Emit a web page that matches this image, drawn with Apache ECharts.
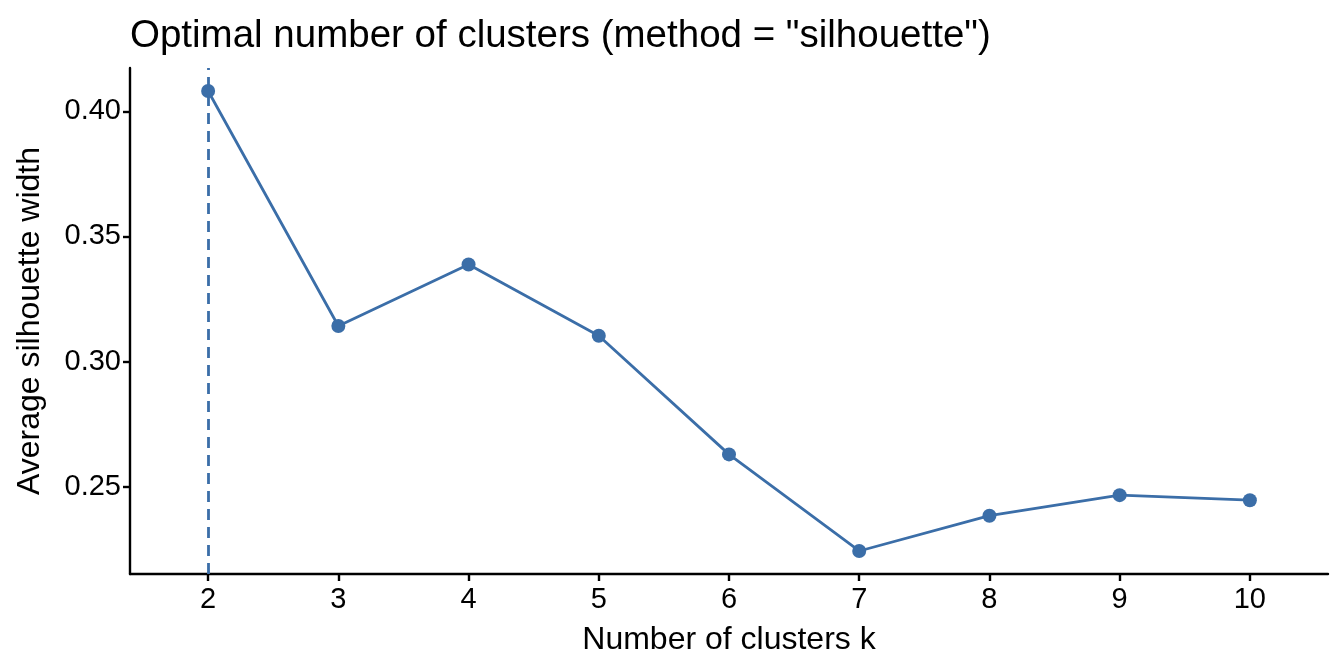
<!DOCTYPE html>
<html>
<head>
<meta charset="utf-8">
<title>Optimal number of clusters</title>
<script src="https://cdn.jsdelivr.net/npm/echarts@6/dist/echarts.min.js"></script>
<style>
html, body { margin: 0; padding: 0; background: #fff; }
#chart { width: 1344px; height: 672px; }
</style>
</head>
<body>
<div id="chart"></div>
<script>
var kValues = [2, 3, 4, 5, 6, 7, 8, 9, 10];
var silWidth = [0.4081, 0.3142, 0.3388, 0.3103, 0.2629, 0.2243, 0.2384, 0.2466, 0.2446];
var xTicks = [2, 3, 4, 5, 6, 7, 8, 9, 10];
var yTicks = [0.25, 0.30, 0.35, 0.40];
var optimalK = 2;

var blue = '#3b6ea8';
var font = 'Liberation Sans, Arial, sans-serif';

var chart = echarts.init(document.getElementById('chart'));

var points = kValues.map(function (k, i) { return [k, silWidth[i]]; });

chart.setOption({
  animation: false,
  title: {
    text: 'Optimal number of clusters (method = "silhouette")',
    left: 125, top: 12,
    textStyle: { fontFamily: font, fontSize: 38.5, fontWeight: 'normal', color: '#000' }
  },
  grid: { left: 130, right: 16, top: 68, bottom: 98 },
  xAxis: {
    type: 'value',
    min: 1.4, max: 10.6,
    name: 'Number of clusters k',
    nameLocation: 'middle',
    nameGap: 50,
    nameTextStyle: { fontFamily: font, fontSize: 32, color: '#000' },
    axisLine: { lineStyle: { color: '#000', width: 2.4 } },
    axisTick: { customValues: xTicks, length: 7, lineStyle: { color: '#000', width: 2.4 } },
    axisLabel: { customValues: xTicks, fontFamily: font, fontSize: 29, color: '#000', margin: 11 },
    splitLine: { show: false }
  },
  yAxis: {
    type: 'value',
    min: 0.2151, max: 0.4173,
    name: 'Average silhouette width',
    nameLocation: 'middle',
    nameGap: 84,
    nameTextStyle: { fontFamily: font, fontSize: 32, color: '#000' },
    axisLine: { show: true, lineStyle: { color: '#000', width: 2.4 } },
    axisTick: { show: true, customValues: yTicks, length: 7, lineStyle: { color: '#000', width: 2.4 } },
    axisLabel: {
      customValues: yTicks, fontFamily: font, fontSize: 29, color: '#000', margin: 9,
      formatter: function (v) { return v.toFixed(2); }
    },
    splitLine: { show: false }
  },
  series: [{
    type: 'line',
    data: points,
    symbol: 'circle',
    symbolSize: 14,
    itemStyle: { color: blue },
    lineStyle: { color: blue, width: 2.8 },
    markLine: {
      silent: true,
      symbol: 'none',
      label: { show: false },
      lineStyle: { color: blue, type: [11, 7], width: 2.8 },
      data: [{ xAxis: optimalK }]
    }
  }]
});
</script>
</body>
</html>
